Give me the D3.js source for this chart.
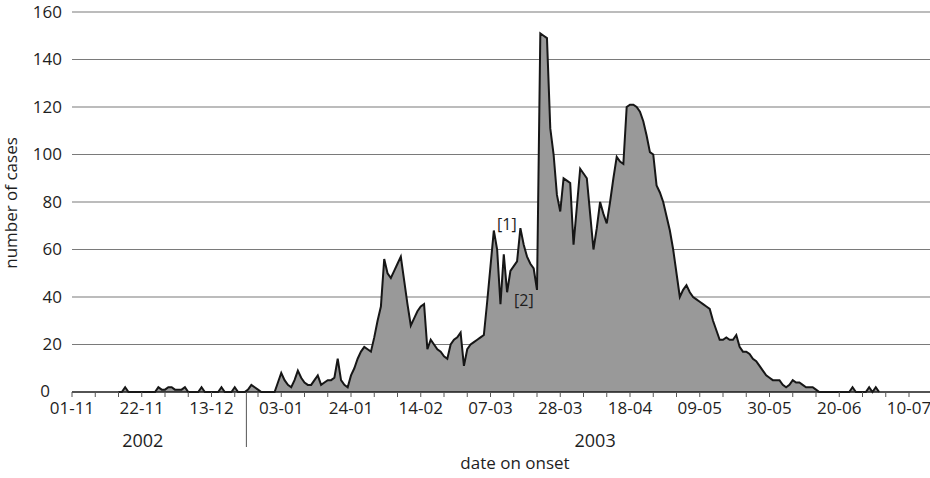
<!DOCTYPE html>
<html><head><meta charset="utf-8">
<script src="https://cdn.jsdelivr.net/npm/d3@7"></script>
<style>
html,body{margin:0;padding:0;background:#fff;}
svg{display:block;font-family:"Open Sans",sans-serif;}
</style></head>
<body>
<svg id="chart" width="930" height="478"></svg>
<script>
// ---- data ----
const axisStart = "2002-11-01";
const axisEnd = "2003-07-11";
const firstOnset = "2002-11-15";
const tickLabels = ["01-11","22-11","13-12","03-01","24-01","14-02","07-03","28-03","18-04","09-05","30-05","20-06","10-07"];
const yTicks = [0,20,40,60,80,100,120,140,160];
const years = ["2002","2003"];
const cases = [
  0,0,2,0,0,0,0,0,0,0,0,0,
  2,1,1,2,2,1,1,1,2,0,
  0,0,0,2,0,0,0,0,0,2,0,0,0,
  2,0,0,0,1,3,2,1,0,0,0,0,0,
  4,8,5,3,2,5,9,6,4,3,3,5,7,3,
  4,5,5,6,14,5,3,2,7,10,14,17,19,18,17,
  23,30,36,56,50,48,51,54,57,47,37,28,31,34,36,
  37,18,22,20,18,17,15,14,20,22,23,25,11,18,20,
  21,22,23,24,38,53,68,60,37,58,42,51,53,55,69,
  62,57,54,52,43,151,150,149,111,100,83,76,90,89,88,
  62,78,94,92,90,75,60,69,80,75,71,80,90,99,97,
  96,120,121,121,120,118,114,108,101,100,87,84,80,74,68,
  60,50,40,43,45,42,40,39,38,37,36,35,30,26,22,
  22,23,22,22,24,19,17,17,16,14,13,11,9,7,6,
  5,5,5,3,2,3,5,4,4,3,2,2,2,1,0,
  0,0,0,0,0,0,0,0,0,2,0,0,0,0,2,0,2,0
];
const noteLabels = ["[1]","[2]"];

// ---- layout ----
const svg = d3.select("#chart");
const parse = d3.utcParse("%Y-%m-%d");
const t0 = parse(axisStart), t1 = parse(axisEnd), tFirst = parse(firstOnset);
const M = {left:72, right:909, top:12, bottom:392};
const x = d3.scaleUtc().domain([t0,t1]).range([M.left, M.right]);
const y = d3.scaleLinear().domain([0,160]).range([M.bottom, M.top]);
const data = cases.map((v,i)=>({date:d3.utcDay.offset(tFirst,i), v}));
const textCol = "#1e1e1e";

// gridlines + y labels
const gy = svg.append("g");
yTicks.forEach(t=>{
  if(t>0) gy.append("line").attr("x1",M.left).attr("x2",930).attr("y1",y(t)).attr("y2",y(t))
    .attr("stroke","#7a7a7a").attr("stroke-width",1.2);
  gy.append("text").attr("x",t===0 ? M.left-22 : M.left-10).attr("y",t===0 ? y(t)-1 : y(t)).attr("dy","0.34em")
    .attr("text-anchor","end").attr("font-size",17).attr("fill",textCol).text(t);
});

// area + outline
svg.append("path").datum(data)
  .attr("d", d3.area().x(d=>x(d.date)).y0(y(0)).y1(d=>y(d.v)))
  .attr("fill","#999999");
svg.append("path").datum(data)
  .attr("d", d3.line().x(d=>x(d.date)).y(d=>y(d.v)))
  .attr("fill","none").attr("stroke","#161616").attr("stroke-width",2).attr("stroke-linejoin","miter");

// x axis
const weekTicks = d3.range(0, tickLabels.length*3 - 2).map(i=>d3.utcDay.offset(t0, 7*i));
const gx = svg.append("g");
gx.append("line").attr("x1",M.left).attr("x2",930).attr("y1",M.bottom).attr("y2",M.bottom)
  .attr("stroke","#1a1a1a").attr("stroke-width",1.6);
weekTicks.forEach((d,i)=>{
  gx.append("line").attr("x1",x(d)).attr("x2",x(d)).attr("y1",M.bottom).attr("y2",M.bottom+5)
    .attr("stroke","#555").attr("stroke-width",1);
  if(i%3===0){
    gx.append("text").attr("x",x(d)).attr("y",414).attr("text-anchor","middle")
      .attr("font-size",17).attr("fill",textCol).text(tickLabels[i/3]);
  }
});

// year divider and labels
const tick = i=>x(weekTicks[i*3]);
const divX = (tick(2)+tick(3))/2;
svg.append("line").attr("x1",divX).attr("x2",divX).attr("y1",M.bottom).attr("y2",447)
  .attr("stroke","#555").attr("stroke-width",1);
svg.append("text").attr("x",tick(1)+1).attr("y",447).attr("text-anchor","middle")
  .attr("font-size",18).attr("fill",textCol).text(years[0]);
svg.append("text").attr("x",(tick(7)+tick(8))/2).attr("y",447).attr("text-anchor","middle")
  .attr("font-size",18).attr("fill",textCol).text(years[1]);
svg.append("text").attr("x",515).attr("y",469).attr("text-anchor","middle")
  .attr("font-size",17).attr("fill",textCol).text("date on onset");

// y axis title
svg.append("text").attr("transform","translate(17,203) rotate(-90)").attr("text-anchor","middle")
  .attr("font-size",17).attr("fill",textCol).text("number of cases");

// annotations
svg.append("text").attr("x",497).attr("y",230).attr("font-size",16).attr("fill",textCol).text(noteLabels[0]);
svg.append("text").attr("x",514).attr("y",306).attr("font-size",16).attr("fill",textCol).text(noteLabels[1]);
</script>
</body></html>
